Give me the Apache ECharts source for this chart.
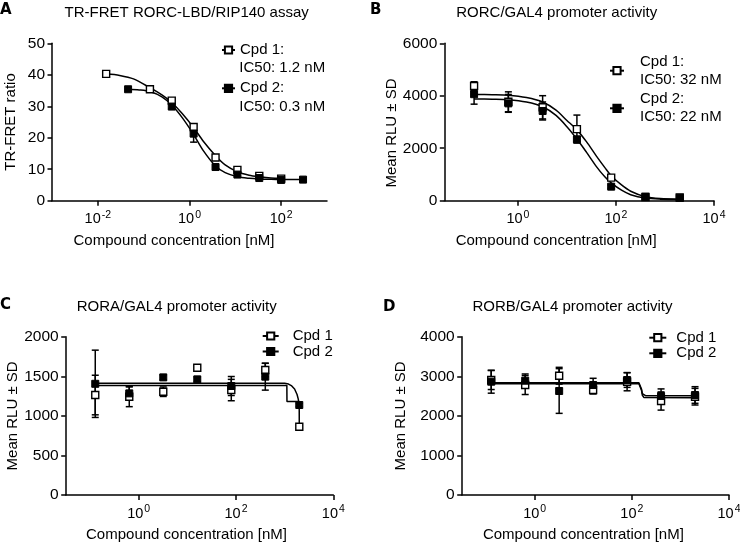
<!DOCTYPE html>
<html><head><meta charset="utf-8">
<script src="https://cdn.jsdelivr.net/npm/echarts@6.0.0/dist/echarts.min.js"></script>
<style>html,body{margin:0;padding:0;background:#fff}#c{width:740px;height:543px}</style>
</head><body><div id="c"></div>
<script>
// ---------- DATA ----------
// Panel A: TR-FRET RORC-LBD/RIP140 assay
const concA = [0.0152, 0.0457, 0.137, 0.41, 1.23, 3.7, 11.1, 33.3, 100, 300];
const A_cpd1 = [40.3, null, 35.4, 31.8, 23.4, 13.7, 9.8, 7.9, 7.0, null];
const A_cpd1_sd = [0, 0, 0, 0, 0.8, 0.6, 0, 0, 0, 0];
const A_cpd2 = [null, 35.4, null, 29.9, 21.3, 10.7, 8.3, 7.2, 6.6, 6.7];
const A_cpd2_sd = [0, 0, 0, 0.6, 2.7, 0, 0, 0, 0, 0];
const A_fit1_conc = [0.0152, 0.03, 0.06, 0.137, 0.25, 0.41, 0.7, 1.23, 2.0, 3.7, 6.0, 11.1, 20, 33.3, 60, 100];
const A_fit1 = [40.3, 39.8, 38.7, 35.9, 33.6, 31.2, 27.6, 23.2, 18.9, 14.3, 11.4, 9.2, 8.1, 7.6, 7.2, 7.1];
const A_fit2_conc = [0.0457, 0.08, 0.137, 0.25, 0.41, 0.7, 1.23, 2.0, 3.7, 6.0, 11.1, 20, 33.3, 60, 100, 300];
const A_fit2 = [35.4, 35.2, 34.7, 33.0, 30.4, 26.3, 21.0, 15.9, 11.0, 8.9, 7.6, 7.1, 6.9, 6.8, 6.75, 6.7];

// Panels B, C, D share concentrations
const concBCD = [0.128, 0.64, 3.2, 16, 80, 400, 2000];

// Panel B: RORC/GAL4
const B_cpd1 = [4370, 3770, 3560, 2730, 880, 140, 120];
const B_cpd1_sd = [165, 380, 443, 534, 80, 30, 30];
const B_cpd2 = [4060, 3710, 3420, 2340, 535, 150, 110];
const B_cpd2_sd = [380, 340, 343, 100, 60, 30, 30];
const B_fit_conc = [0.128, 0.3, 0.64, 1.5, 3.2, 6, 10, 16, 25, 40, 60, 80, 130, 200, 400, 800, 2000];
const B_fit1 = [4050, 4040, 4020, 3930, 3760, 3450, 3060, 2700, 2250, 1700, 1250, 950, 600, 360, 150, 80, 60];
const B_fit2 = [3880, 3870, 3850, 3760, 3580, 3250, 2820, 2350, 1850, 1300, 900, 680, 400, 230, 100, 60, 50];

// Panel C: RORA/GAL4
const C_cpd1 = [1263, 1242, 1305, 1608, 1326, 1579, 863];
const C_cpd1_sd = [250, 126, 60, 30, 135, 85, 20];
const C_cpd2 = [1405, 1284, 1486, 1461, 1377, 1495, 1137];
const C_cpd2_sd = [425, 84, 30, 30, 120, 170, 20];
const C_fit1_conc = [0.128, 1110, 1116, 1990, 2000];
const C_fit1 = [1385, 1385, 1180, 1180, 863];
const C_fit2_conc = [0.128, 1000, 1200, 1400, 1600, 1800, 1900, 2000];
const C_fit2 = [1412, 1412, 1402, 1378, 1340, 1270, 1215, 1137];

// Panel D: RORB/GAL4
const D_cpd1 = [2905, 2779, 3014, 2653, 2863, 2375, 2484];
const D_cpd1_sd = [240, 240, 212, 100, 230, 230, 210];
const D_cpd2 = [2863, 2888, 2628, 2779, 2905, 2501, 2527];
const D_cpd2_sd = [290, 170, 565, 170, 185, 180, 210];
const D_fit_conc = [0.128, 140, 152, 158, 165, 178, 195, 2000];
const D_fit1 = [2810, 2810, 2780, 2650, 2520, 2465, 2460, 2460];
const D_fit2 = [2835, 2835, 2805, 2680, 2560, 2510, 2505, 2505];

// Text
const titles = ['TR-FRET RORC-LBD/RIP140 assay', 'RORC/GAL4 promoter activity', 'RORA/GAL4 promoter activity', 'RORB/GAL4 promoter activity'];
const letters = ['A', 'B', 'C', 'D'];
const yNames = ['TR-FRET ratio', 'Mean RLU \u00b1 SD', 'Mean RLU \u00b1 SD', 'Mean RLU \u00b1 SD'];
const xName = 'Compound concentration [nM]';
const A_ic50 = ['IC50: 1.2 nM', 'IC50: 0.3 nM'];
const B_ic50 = ['IC50: 32 nM', 'IC50: 22 nM'];

// ---------- BUILD ----------
const FONT = '"Liberation Sans", Arial, sans-serif';
const BLACK = '#000';

function pairs(xs, ys) { return xs.map((x, i) => [x, ys[i]]).filter(p => p[1] != null); }
function errs(xs, ys, sds) {
  return xs.map((x, i) => (ys[i] == null || !sds[i]) ? null : [x, ys[i] - sds[i], ys[i] + sds[i]]).filter(Boolean);
}
function errRender(params, api) {
  const x = api.value(0), lo = api.value(1), hi = api.value(2);
  const t = api.coord([x, hi]), b = api.coord([x, lo]);
  const w = 3.5, st = { stroke: BLACK, lineWidth: 1.5 };
  return { type: 'group', children: [
    { type: 'line', shape: { x1: t[0], y1: t[1], x2: b[0], y2: b[1] }, style: st },
    { type: 'line', shape: { x1: t[0] - w, y1: t[1], x2: t[0] + w, y2: t[1] }, style: st },
    { type: 'line', shape: { x1: b[0] - w, y1: b[1], x2: b[0] + w, y2: b[1] }, style: st }
  ]};
}
const openStyle = { color: '#fff', borderColor: BLACK, borderWidth: 1.4, opacity: 1 };
const fillStyle = { color: BLACK, borderColor: BLACK, borderWidth: 1, opacity: 1 };

const grids = [
  { left: 52, top: 43.3, width: 275, height: 157.4 },
  { left: 444.3, top: 43.3, width: 269.7, height: 157.4 },
  { left: 65.7, top: 336.7, width: 267.6, height: 158.3 },
  { left: 461.7, top: 336.7, width: 267.3, height: 158.3 }
].map(g => Object.assign({ outerBoundsMode: 'none', containLabel: false, show: false }, g));

const xRanges = [[0.001, 1000, [0.01, 1, 100]], [0.0316, 10000, [1, 100, 10000]], [0.0316, 10000, [1, 100, 10000]], [0.0316, 10000, [1, 100, 10000]]];
const xPadRight = [31, 46, 26, 24];
const yRanges = [[0, 50, 10], [0, 6000, 2000], [0, 2000, 500], [0, 4000, 1000]];
const yGaps = [34, 41, 42, 53];
const yNamePadR = [0, 22, 0, 0];
const xGaps = [33, 33, 32.5, 32];

const xAxes = xRanges.map((r, i) => ({
  type: 'log', logBase: 10, gridIndex: i, min: r[0], max: r[1],
  name: xName, nameLocation: 'middle', nameGap: xGaps[i],
  nameTextStyle: { fontFamily: FONT, fontSize: 15, color: BLACK, lineHeight: 15, padding: [0, xPadRight[i], 0, 0] },
  axisLine: { show: true, onZero: false, lineStyle: { color: BLACK, width: 1.5 } },
  axisTick: { show: true, length: 5, lineStyle: { color: BLACK, width: 1.5 }, customValues: r[2] },
  minorTick: { show: false }, splitLine: { show: false }, minorSplitLine: { show: false },
  axisLabel: {
    customValues: r[2], margin: 9, color: BLACK,
    formatter: v => { const e = Math.round(Math.log10(v)); return '{b|10}{s|' + (e < 0 ? '-' + (-e) : e) + '}'; },
    rich: {
      b: { fontFamily: FONT, fontSize: 14.5, color: BLACK, lineHeight: 19 },
      s: { fontFamily: FONT, fontSize: 10.5, color: BLACK, lineHeight: 10, verticalAlign: 'top', padding: [0, 0, 0, 1] }
    }
  }
}));
const yAxes = yRanges.map((r, i) => ({
  type: 'value', gridIndex: i, min: r[0], max: r[1], interval: r[2],
  name: yNames[i], nameLocation: 'middle', nameGap: yGaps[i],
  nameTextStyle: { fontFamily: FONT, fontSize: 15, color: BLACK, lineHeight: 15, padding: [0, yNamePadR[i], 0, 0] },
  axisLine: { show: true, onZero: false, lineStyle: { color: BLACK, width: 1.5 } },
  axisTick: { show: true, length: 4.5, lineStyle: { color: BLACK, width: 1.5 } },
  splitLine: { show: false },
  axisLabel: { fontFamily: FONT, fontSize: 15.5, color: BLACK, margin: 7, formatter: v => String(v) }
}));

const panels = [
  { conc1: concA, conc2: concA, p1: A_cpd1, s1: A_cpd1_sd, p2: A_cpd2, s2: A_cpd2_sd, f1x: A_fit1_conc, f1: A_fit1, f2x: A_fit2_conc, f2: A_fit2, smooth: 0.3 },
  { conc1: concBCD, conc2: concBCD, p1: B_cpd1, s1: B_cpd1_sd, p2: B_cpd2, s2: B_cpd2_sd, f1x: B_fit_conc, f1: B_fit1, f2x: B_fit_conc, f2: B_fit2, smooth: 0.3 },
  { conc1: concBCD, conc2: concBCD, p1: C_cpd1, s1: C_cpd1_sd, p2: C_cpd2, s2: C_cpd2_sd, f1x: C_fit1_conc, f1: C_fit1, f2x: C_fit2_conc, f2: C_fit2, smooth: false },
  { conc1: concBCD, conc2: concBCD, p1: D_cpd1, s1: D_cpd1_sd, p2: D_cpd2, s2: D_cpd2_sd, f1x: D_fit_conc, f1: D_fit1, f2x: D_fit_conc, f2: D_fit2, smooth: false }
];

const series = [];
panels.forEach((p, i) => {
  const ax = { xAxisIndex: i, yAxisIndex: i };
  series.push(Object.assign({ type: 'line', name: 'Cpd 1', data: pairs(p.f1x, p.f1), showSymbol: false, symbol: 'rect', symbolSize: 7,
    smooth: p.smooth, lineStyle: { color: BLACK, width: 1.5 }, itemStyle: openStyle, z: 2, silent: true }, ax));
  series.push(Object.assign({ type: 'line', name: 'Cpd 2', data: pairs(p.f2x, p.f2), showSymbol: false, symbol: 'rect', symbolSize: 7,
    smooth: p.smooth, lineStyle: { color: BLACK, width: 1.5 }, itemStyle: fillStyle, z: 2, silent: true }, ax));
  series.push(Object.assign({ type: 'custom', name: 'Cpd 1 SD', renderItem: errRender, data: errs(p.conc1, p.p1, p.s1), encode: { x: 0, y: [1, 2] }, z: 3, silent: true }, ax));
  series.push(Object.assign({ type: 'custom', name: 'Cpd 2 SD', renderItem: errRender, data: errs(p.conc2, p.p2, p.s2), encode: { x: 0, y: [1, 2] }, z: 3, silent: true }, ax));
  series.push(Object.assign({ type: 'scatter', name: 'Cpd 1', data: pairs(p.conc1, p.p1), symbol: 'rect', symbolSize: 7, itemStyle: openStyle, z: 4, silent: true }, ax));
  series.push(Object.assign({ type: 'scatter', name: 'Cpd 2', data: pairs(p.conc2, p.p2), symbol: 'rect', symbolSize: 7, itemStyle: fillStyle, z: 5, silent: true }, ax));
});

function leg(name, left, top, iw, text, lh, padL) {
  return { data: [name], left: left, top: top, padding: 0, itemWidth: iw, itemHeight: 9, selectedMode: false,
    formatter: () => text,
    textStyle: { fontFamily: FONT, fontSize: 15, color: BLACK, lineHeight: lh, padding: [0, 0, 0, padL] } };
}
const legends = [
  leg('Cpd 1', 221, 41.5, 13, 'Cpd 1:', 17, 0),
  leg('Cpd 2', 221, 79.8, 13, 'Cpd 2:', 17, 0),
  leg('Cpd 1', 609, 52.7, 14, 'Cpd 1:\n' + B_ic50[0], 18, 11),
  leg('Cpd 2', 609, 90.3, 14, 'Cpd 2:\n' + B_ic50[1], 18, 11),
  leg('Cpd 1', 261.7, 328, 16, 'Cpd 1', 16, 9),
  leg('Cpd 2', 261.7, 343.5, 16, 'Cpd 2', 16, 9),
  leg('Cpd 1', 648.3, 329.7, 17, 'Cpd 1', 16, 5),
  leg('Cpd 2', 648.3, 345.3, 17, 'Cpd 2', 16, 5)
];

const titlePos = [[186.7, 13], [556.7, 13], [176.7, 307], [572.5, 307]];
const letterPos = [[0, 10], [370, 10], [0, 305], [383, 307]];
const graphics = [];
titles.forEach((t, i) => graphics.push({ type: 'text', x: titlePos[i][0], y: titlePos[i][1], silent: true,
  style: { text: t, fontFamily: FONT, fontSize: 15, fill: BLACK, align: 'center', verticalAlign: 'middle' } }));
letters.forEach((t, i) => graphics.push({ type: 'text', x: letterPos[i][0], y: letterPos[i][1], silent: true,
  style: { text: t, fontFamily: '"DejaVu Sans", sans-serif', fontWeight: 'bold', fontSize: 15, fill: BLACK, align: 'left', verticalAlign: 'middle' } }));
graphics.push({ type: 'text', x: 239.3, y: 67.7, silent: true, style: { text: A_ic50[0], fontFamily: FONT, fontSize: 15, fill: BLACK, align: 'left', verticalAlign: 'middle' } });
graphics.push({ type: 'text', x: 239.3, y: 106.7, silent: true, style: { text: A_ic50[1], fontFamily: FONT, fontSize: 15, fill: BLACK, align: 'left', verticalAlign: 'middle' } });

const chart = echarts.init(document.getElementById('c'), null, { renderer: 'canvas' });
chart.setOption({
  animation: false,
  backgroundColor: '#fff',
  textStyle: { fontFamily: FONT, color: BLACK },
  grid: grids, xAxis: xAxes, yAxis: yAxes,
  legend: legends, series: series, graphic: graphics
});
</script></body></html>
